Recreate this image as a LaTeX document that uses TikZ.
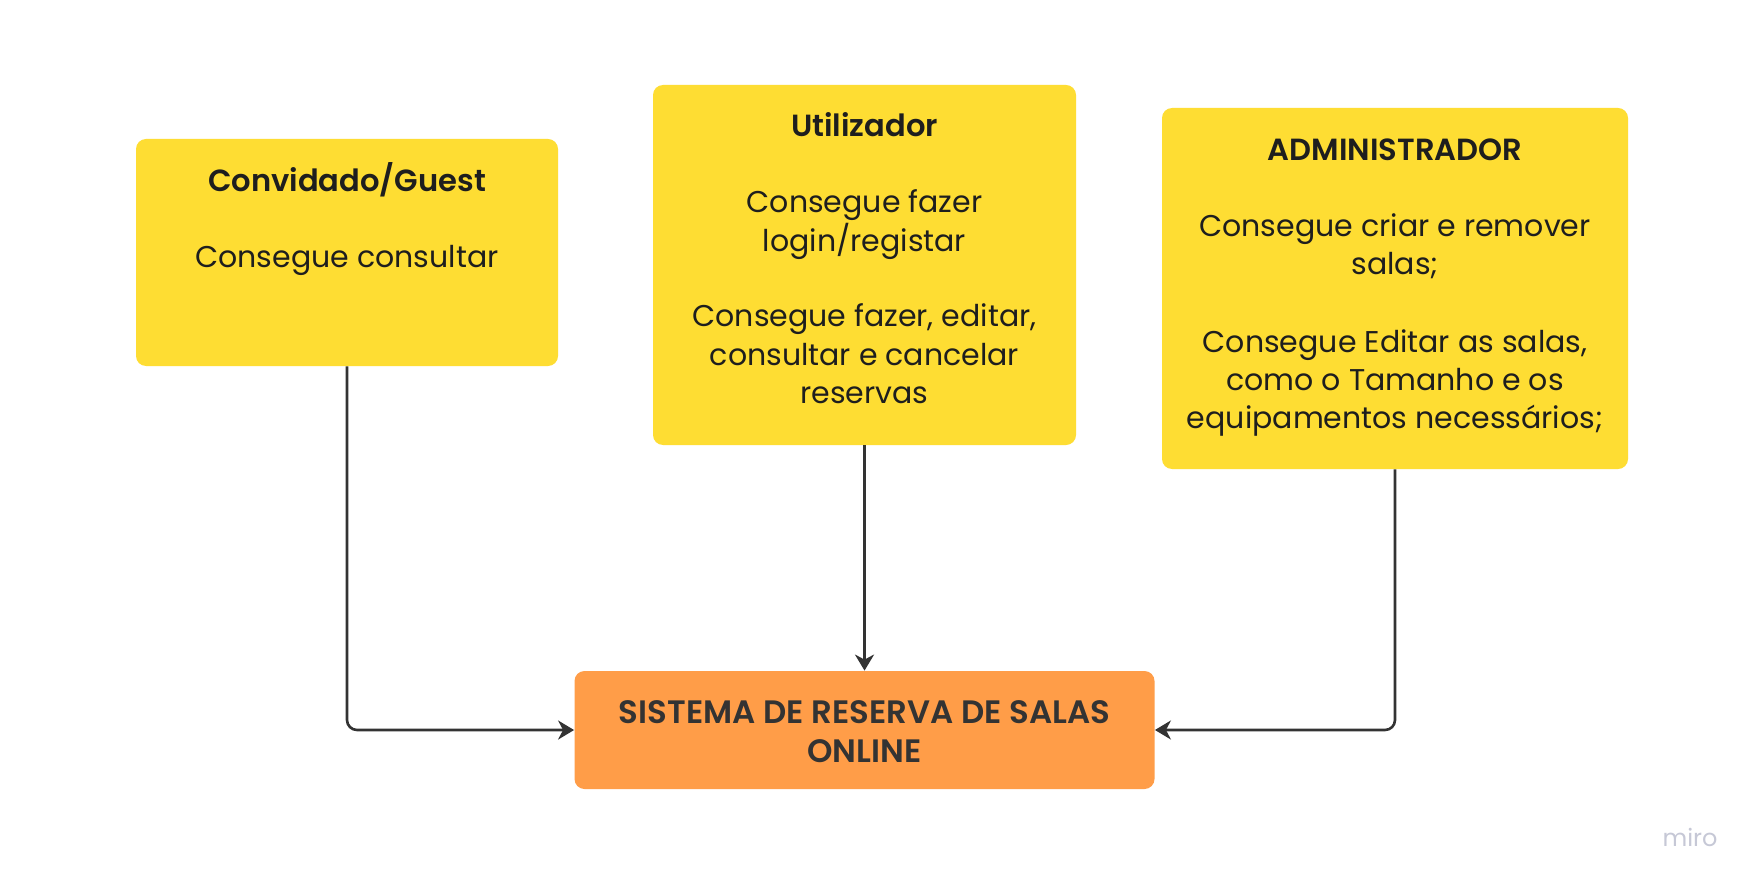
\documentclass[tikz,border=0pt]{standalone}
\usepackage{fontspec}
\setmainfont{Poppins}[BoldFont={Poppins SemiBold}]
\usetikzlibrary{arrows.meta}
\definecolor{boxyellow}{HTML}{FEDD33}
\definecolor{boxorange}{HTML}{FF9D48}
\definecolor{ink}{HTML}{1E1E1E}
\definecolor{linecol}{HTML}{333333}
\definecolor{mirogrey}{HTML}{C6C8D6}
\begin{document}
\begin{tikzpicture}[x=0.5pt,y=-0.5pt,
  ybox/.style={fill=boxyellow, rounded corners=5pt, inner sep=0pt},
  obox/.style={fill=boxorange, rounded corners=5pt, inner sep=0pt},
  ttl/.style={anchor=base, inner sep=0pt, text=ink, font=\fontsize{15.3}{19}\selectfont\bfseries},
  bdy/.style={anchor=base, inner sep=0pt, text=ink, font=\fontsize{15}{19}\selectfont},
  systxt/.style={anchor=base, inner sep=0pt, text=linecol, font=\fontsize{16.2}{20}\selectfont\bfseries},
  conn/.style={draw=linecol, line width=1.3pt, rounded corners=5pt, -{Stealth[length=8pt,width=9.5pt,inset=2.5pt]}}
]
\useasboundingbox[fill=white] (0,0) rectangle (1759,887);
% boxes
\node[ybox, minimum width=211pt, minimum height=113.5pt] (conv) at (347,252.5) {};
\node[ybox, minimum width=211.5pt, minimum height=180pt] (util) at (864.5,265) {};
\node[ybox, minimum width=233pt, minimum height=180.5pt] (adm) at (1395,288.5) {};
\node[obox, minimum width=290pt, minimum height=59pt] (sys) at (864.5,730) {};
% texts
\node[ttl] (convt) at (347,192) {Convidado/Guest};
\node[bdy] (convb) at (347,268) {Consegue consultar};
\node[ttl] (utilt) at (864.5,137) {Utilizador};
\node[bdy] (utilb1) at (864.5,213) {Consegue fazer};
\node[bdy] (utilb2) at (864.5,252) {login/registar};
\node[bdy] (utilb3) at (864.5,327) {Consegue fazer, editar,};
\node[bdy] (utilb4) at (864.5,365) {consultar e cancelar};
\node[bdy] (utilb5) at (864.5,403) {reservas};
\node[ttl] (admt) at (1395,161) {ADMINISTRADOR};
\node[bdy] (admb1) at (1395,237) {Consegue criar e remover};
\node[bdy] (admb2) at (1395,275) {salas;};
\node[bdy] (admb3) at (1395,352) {Consegue Editar as salas,};
\node[bdy] (admb4) at (1395,390) {como o Tamanho e os};
\node[bdy] (admb5) at (1395,428) {equipamentos necessários;};
\node[systxt] (syst1) at (864.5,723) {SISTEMA DE RESERVA DE SALAS};
\node[systxt] (syst2) at (864.5,762) {ONLINE};
\node[anchor=base, inner sep=0pt, text=mirogrey, font=\fontsize{12}{14}\selectfont] (miro) at (1690,846) {miro};
% connectors
\draw[conn] (conv.south) |- (sys.west);
\draw[conn] (util.south) -- (sys.north);
\draw[conn] (adm.south) |- (sys.east);
\end{tikzpicture}
\end{document}
